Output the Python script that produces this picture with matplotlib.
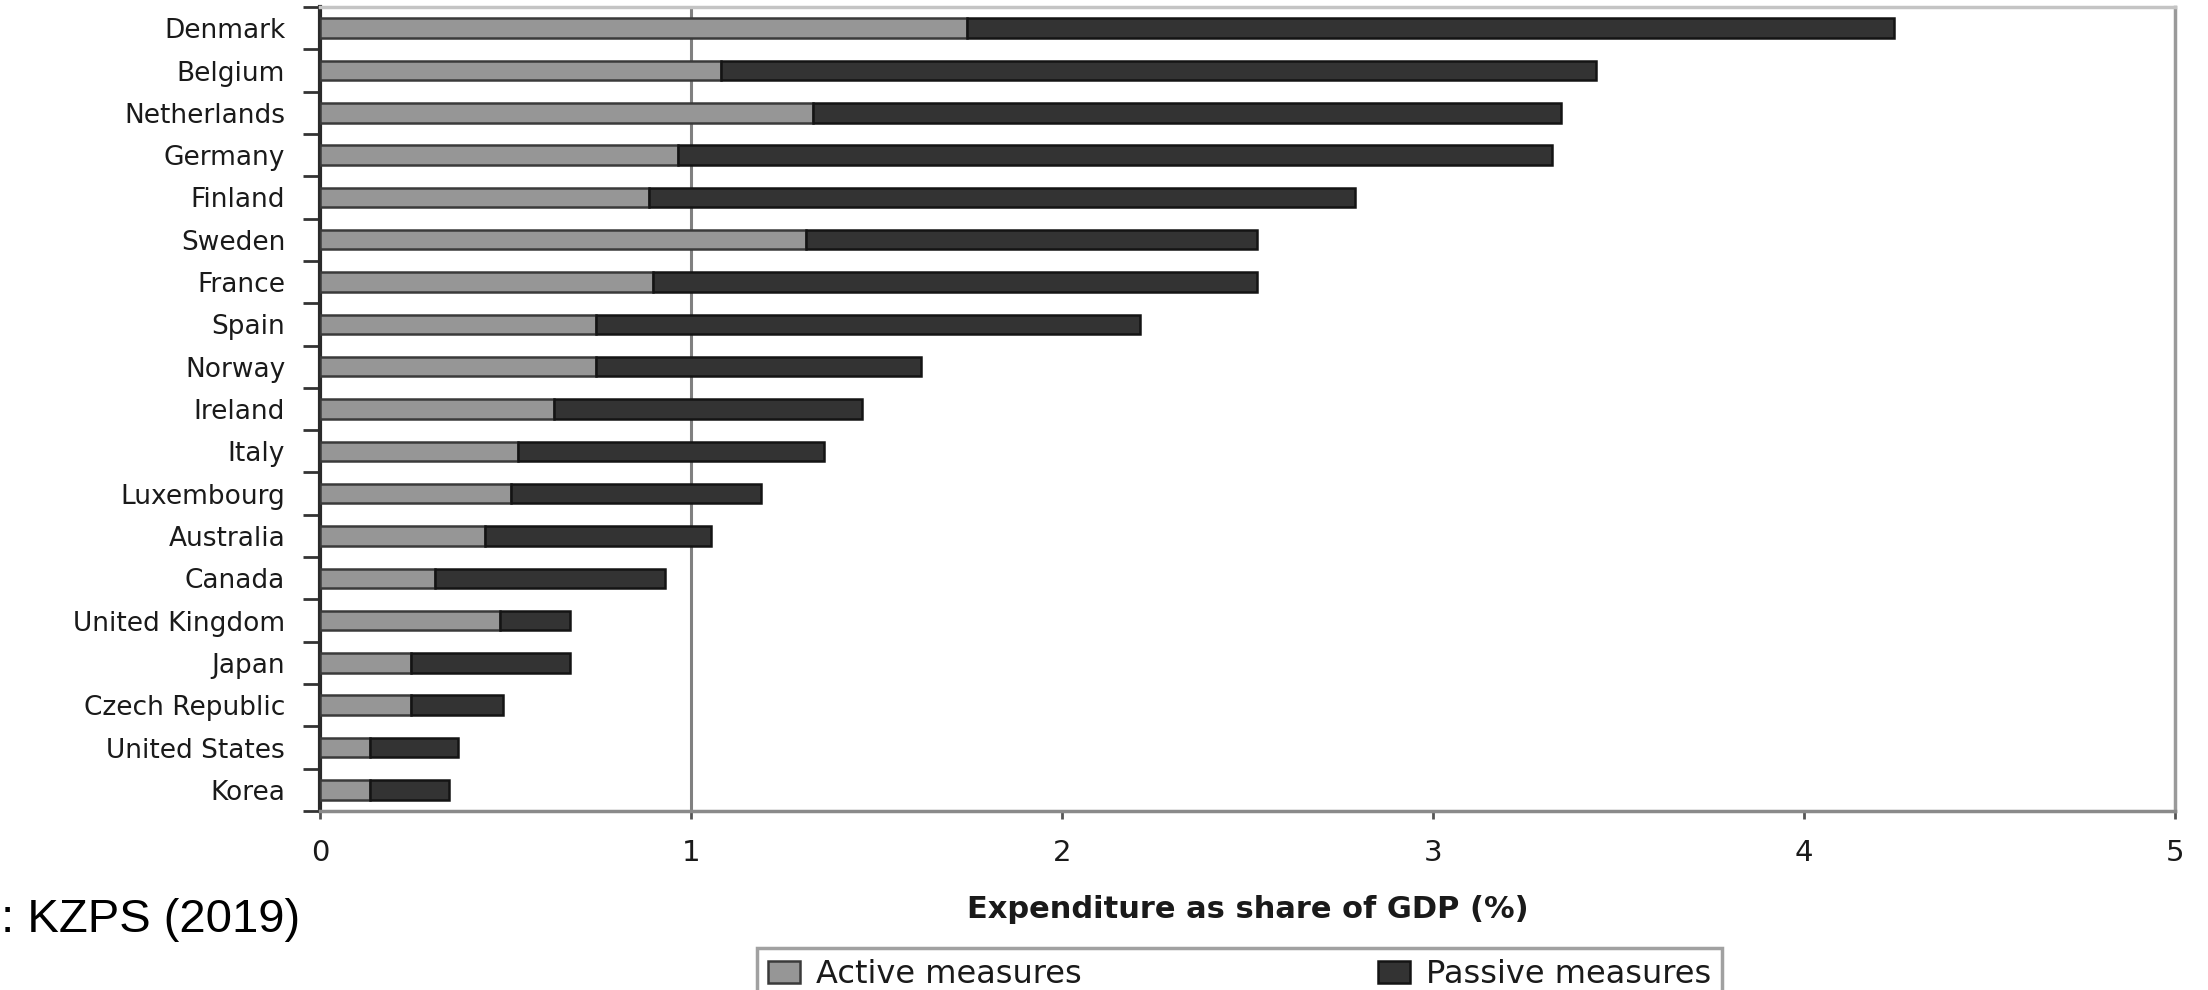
import matplotlib
matplotlib.use("Agg")
import matplotlib.pyplot as plt
import numpy as np

# data, top to bottom as in the chart
countries = ['Denmark', 'Belgium', 'Netherlands', 'Germany', 'Finland', 'Sweden',
             'France', 'Spain', 'Norway', 'Ireland', 'Italy', 'Luxembourg',
             'Australia', 'Canada', 'United Kingdom', 'Japan', 'Czech Republic',
             'United States', 'Korea']
active = [1.745, 1.08, 1.33, 0.965, 0.887, 1.31, 0.898, 0.745, 0.745, 0.63,
          0.535, 0.514, 0.444, 0.31, 0.486, 0.245, 0.245, 0.135, 0.135]
passive = [2.498, 2.36, 2.015, 2.355, 1.903, 1.215, 1.627, 1.465, 0.875, 0.83,
           0.825, 0.676, 0.61, 0.62, 0.189, 0.43, 0.248, 0.237, 0.214]
x_ticks = [0, 1, 2, 3, 4, 5]
ref_line = 1
series_names = ['Active measures', 'Passive measures']

plt.rcParams['font.family'] = ['DejaVu Sans']

fig = plt.figure(figsize=(22.08, 9.9), dpi=100)
ax = fig.add_axes([0.1449, 0.1808, 0.985 - 0.1449, 0.9929 - 0.1808])

# Korea at the bottom
y = np.arange(len(countries))[::-1]

ax.axvline(ref_line, color='#808080', lw=2.2, zorder=1)

ax.barh(y, active, height=0.46, color='#969696', edgecolor='#3a3a3a',
        linewidth=1.8, label=series_names[0], zorder=3)
ax.barh(y, passive, left=active, height=0.46, color='#333333',
        edgecolor='#141414', linewidth=1.8, label=series_names[1], zorder=3)

ax.set_xlim(0, 5)
ax.set_ylim(-0.5, len(countries) - 0.5)

ax.set_xticks(x_ticks)
ax.set_xticklabels([str(t) for t in x_ticks])
ax.tick_params(axis='x', length=6, width=2, color='#555555', pad=14,
               labelsize=21, labelcolor='#1a1a1a', direction='out')

ax.set_yticks(y)
ax.set_yticklabels(countries)
ax.set_yticks(np.arange(-0.5, len(countries), 1.0), minor=True)
ax.tick_params(axis='y', which='major', length=0, pad=25, labelsize=19,
               labelcolor='#1a1a1a')
ax.tick_params(axis='y', which='minor', length=12, width=2, color='#333333',
               direction='out')

ax.spines['left'].set_color('#2a2a2a')
ax.spines['left'].set_linewidth(3)
ax.spines['bottom'].set_color('#8a8a8a')
ax.spines['bottom'].set_linewidth(2.5)
ax.spines['top'].set_color('#c4c4c4')
ax.spines['top'].set_linewidth(2.5)
ax.spines['right'].set_color('#9a9a9a')
ax.spines['right'].set_linewidth(2.5)

ax.set_xlabel('Expenditure as share of GDP (%)', fontsize=22, fontweight='bold',
              color='#1a1a1a', labelpad=20)

# legend box, its lower part runs off the picture
leg = fig.legend(loc='upper left',
                 bbox_to_anchor=(757 / 2208, 1 - 948 / 990, (1722 - 757) / 2208, 0.0),
                 mode='expand', ncol=2, fontsize=23, frameon=True, fancybox=False,
                 handlelength=1.0, handleheight=0.7, handletextpad=0.5,
                 borderaxespad=0.0, borderpad=0.35)
leg.get_frame().set_edgecolor('#8a8a8a')
leg.get_frame().set_linewidth(2.5)
for t in leg.get_texts():
    t.set_color('#1a1a1a')

# source note, only its tail is visible in the reference
fig.text(1 / 2208, 1 - 932 / 990, ': KZPS (2019)', ha='left', va='baseline',
         fontsize=34, family=['Liberation Sans', 'DejaVu Sans'], color='black')

fig.savefig('out.png', dpi=100)
